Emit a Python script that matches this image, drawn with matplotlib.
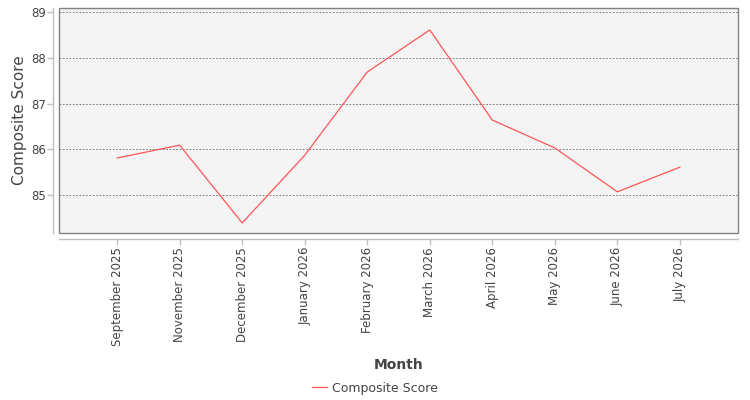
import numpy as np
import matplotlib.pyplot as plt

months = ["September 2025", "November 2025", "December 2025", "January 2026",
          "February 2026", "March 2026", "April 2026", "May 2026",
          "June 2026", "July 2026"]
scores = [85.81, 86.09, 84.39, 85.87, 87.69, 88.61, 86.64, 86.03, 85.07, 85.61]

fig = plt.figure(figsize=(7.5, 4), dpi=100)
ax = fig.add_axes([59 / 750, 1 - 233 / 400, 679 / 750, 225 / 400])

x = np.arange(len(months))
ax.plot(x, scores, color="#ff5555", linewidth=0.9, label="Composite Score")

ax.set_xlim(-0.93, len(months) - 1 + 0.93)
ax.set_ylim(84.17, 89.09)
ax.set_xticks(x)
ax.set_xticklabels(months)
ax.set_yticks([85, 86, 87, 88, 89])

ax.set_facecolor("#f4f4f4")
ax.patch.set_edgecolor("#808080")
ax.patch.set_linewidth(1.0)
ax.grid(axis="y", color="#666666", linestyle=(0, (2, 2)), linewidth=0.6)
ax.set_axisbelow(True)

for side in ("top", "right"):
    ax.spines[side].set_visible(False)
for side in ("left", "bottom"):
    ax.spines[side].set_position(("outward", 4))
    ax.spines[side].set_color("#c0c0c0")
    ax.spines[side].set_linewidth(1.0)

ax.tick_params(colors="#c0c0c0", labelcolor="#444444", labelsize=8.5, length=4, width=1)
ax.tick_params(axis="x", labelrotation=90, pad=2)
ax.tick_params(axis="y", pad=1.5)

ax.set_ylabel("Composite Score", fontsize=11, color="#444444", labelpad=3)
ax.set_xlabel("Month", fontsize=10, fontweight="bold", color="#444444", labelpad=9)

fig.legend(loc="lower center", bbox_to_anchor=(0.5, -0.015), frameon=False, fontsize=9,
           handlelength=1.2, handletextpad=0.35, labelcolor="#444444")

fig.savefig("out.png", dpi=100)
